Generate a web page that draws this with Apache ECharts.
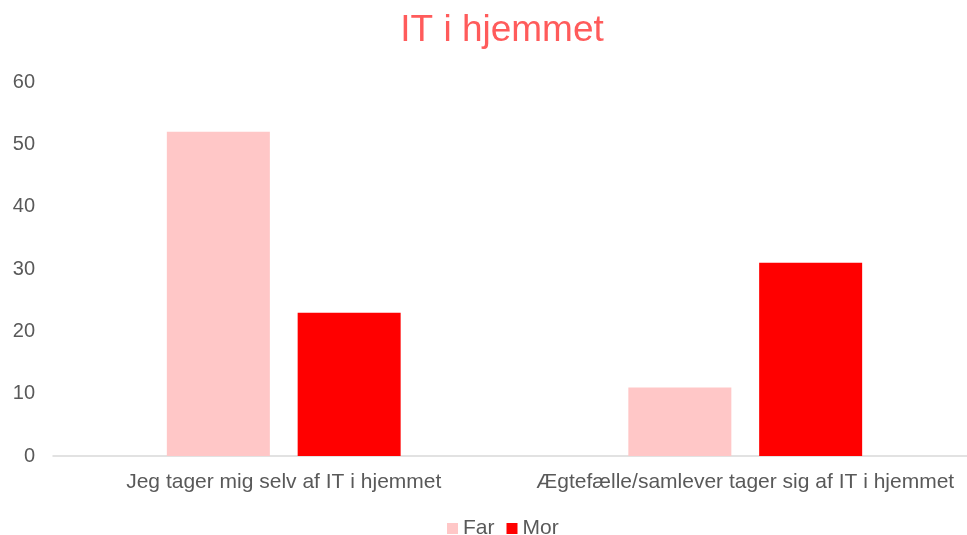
<!DOCTYPE html>
<html><head><meta charset="utf-8">
<script src="https://cdn.jsdelivr.net/npm/echarts@6/dist/echarts.min.js"></script>
<style>html,body{margin:0;padding:0;background:#fff}#c{width:967px;height:535px}</style>
</head><body><div id="c"></div>
<script>
var categories = ['Jeg tager mig selv af IT i hjemmet', 'Ægtefælle/samlever tager sig af IT i hjemmet'];
var far = [52, 11];
var mor = [23, 31];
var yTicks = {min: 0, max: 60, interval: 10};
var chart = echarts.init(document.getElementById('c'));
var font = 'Liberation Sans, Arial, sans-serif';
chart.setOption({
  animation: false,
  title: {text: 'IT i hjemmet', left: 497, top: 7, textAlign: 'center',
    textStyle: {color: '#FF5B5B', fontSize: 37, fontWeight: 'normal', fontFamily: font}},
  legend: {bottom: -9, left: 442, itemWidth: 11, itemHeight: 11, itemGap: 12,
    icon: 'rect', textStyle: {color: '#595959', fontSize: 21, fontFamily: font},
    data: ['Far', 'Mor']},
  grid: {left: 53, top: 82, width: 923, bottom: 79, containLabel: false, outerBoundsMode: 'none'},
  xAxis: {type: 'category', data: categories,
    axisLine: {lineStyle: {color: '#D9D9D9', width: 1.5}}, axisTick: {show: false},
    axisLabel: {color: '#595959', fontSize: 21, fontFamily: font, margin: 16, interval: 0}},
  yAxis: {type: 'value', min: yTicks.min, max: yTicks.max, interval: yTicks.interval,
    splitLine: {show: false}, axisLine: {show: false}, axisTick: {show: false},
    axisLabel: {color: '#595959', fontSize: 20, fontFamily: font, margin: 18}},
  series: [
    {name: 'Far', type: 'bar', data: far, barWidth: 103, barGap: '27%', itemStyle: {color: '#FFC7C7'}},
    {name: 'Mor', type: 'bar', data: mor, barWidth: 103, itemStyle: {color: '#FF0000'}}
  ]
});
</script></body></html>
